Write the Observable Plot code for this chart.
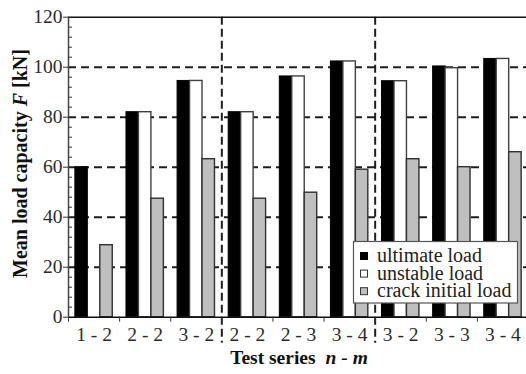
<!DOCTYPE html>
<html><head><meta charset="utf-8">
<script src="https://cdn.jsdelivr.net/npm/d3@7"></script>
<script src="https://cdn.jsdelivr.net/npm/@observablehq/plot@0.6"></script>
<style>
body{margin:0;background:#fff;}
#wrap{position:relative;width:526px;height:374px;overflow:hidden;}
</style></head><body><div id="wrap"></div>
<script>
// ---- data ----
const groups = ["1 - 2","2 - 2","3 - 2","2 - 2","2 - 3","3 - 4","3 - 2","3 - 3","3 - 4"];
const seriesNames = ["ultimate load","unstable load","crack initial load"];
const ultimate = [60, 82, 94.5, 82, 96.3, 102.3, 94.4, 100.3, 103.3];
const unstable = [null, 82, 94.5, 82, 96.3, 102.3, 94.4, 99.6, 103.3];
const crack    = [28.8, 47.4, 63.2, 47.4, 49.8, 59, 63.2, 60, 66];
const yTicks = [0, 20, 40, 60, 80, 100, 120];
const gridValues = [20, 40, 60, 80, 100];
const minorTicks = d3.range(0, 121, 4).filter(v => v % 20 !== 0);
const separators = [3, 6];

const fills = ["#000000", "#ffffff", "#bfbfbf"];
const strokes = ["#000000", "#404040", "#303030"];
const serif = "Liberation Serif";

const slot = d3.scaleBand().domain(seriesNames).range([0, 1]).paddingInner(0).paddingOuter(0.55);
const bw = slot.bandwidth();

const seriesData = [ultimate, unstable, crack].map((arr, k) =>
  arr.map((v, i) => ({i, series: seriesNames[k], value: v})).filter(d => d.value != null));

const barMarks = seriesData.map((rows, k) => Plot.rectY(rows, {
  x1: d => d.i + slot(d.series),
  x2: d => d.i + slot(d.series) + bw,
  y1: 0, y2: "value",
  fill: fills[k], stroke: strokes[k], strokeWidth: k === 0 ? 1 : 1.4
}));

const plot = Plot.plot({
  width: 526, height: 374,
  marginLeft: 68, marginRight: 0, marginTop: 16.7, marginBottom: 57.3,
  x: {domain: [0, 9], range: [68, 528]},
  y: {domain: [0, 120], range: [316.7, 16.7]},
  style: {fontFamily: serif, fontSize: "19.5px", color: "#2b2b2b", background: "#fff"},
  marks: [
    Plot.ruleY(gridValues, {stroke: "#1e1e1e", strokeWidth: 2, strokeDasharray: "8,5"}),
    Plot.ruleX(separators, {stroke: "#1e1e1e", strokeWidth: 2, strokeDasharray: "8,4", insetBottom: -26}),
    ...barMarks,
    Plot.ruleY([0, 120], {stroke: "#111", strokeWidth: 1.5}),
    Plot.ruleX([0], {stroke: "#444", strokeWidth: 1.5}),
    Plot.axisY(yTicks, {anchor: "left", tickSize: 5, tickPadding: 1, label: null, stroke: "#333",
      fontFamily: serif, fontSize: 19.5, fill: "#2b2b2b"}),
    Plot.axisY(minorTicks, {anchor: "left", tickSize: -4, tickFormat: () => "", label: null, stroke: "#333"}),
    Plot.axisX(d3.range(10), {anchor: "bottom", tickSize: 5, tickFormat: () => "", label: null, stroke: "#333"}),
    Plot.axisX(d3.range(9).map(i => i + 0.5), {anchor: "bottom", tickSize: 0, tickPadding: 9.5,
      tickFormat: v => groups[Math.floor(v)], label: null, fontFamily: serif, fontSize: 19.5, fill: "#2b2b2b"})
  ]
});
document.getElementById("wrap").appendChild(plot);

// ---- titles & legend ----
const svg = d3.select(plot);
const xt = svg.append("text").attr("x", 299).attr("y", 364).attr("text-anchor", "middle")
  .attr("font-family", serif).attr("font-size", 19.5).attr("font-weight", "bold").attr("fill", "#111");
xt.append("tspan").text("Test series");
xt.append("tspan").attr("dx", 10).attr("font-style", "italic").text("n - m");

const yt = svg.append("text").attr("transform", "translate(27,163.5) rotate(-90)").attr("text-anchor", "middle")
  .attr("font-family", serif).attr("font-size", 20).attr("font-weight", "bold").attr("fill", "#111");
yt.append("tspan").text("Mean load capacity ");
yt.append("tspan").attr("font-style", "italic").text("F");
yt.append("tspan").text(" [kN]");

const lg = svg.append("g");
lg.append("rect").attr("x", 353.5).attr("y", 241.5).attr("width", 164).attr("height", 61.5)
  .attr("fill", "#fff").attr("stroke", "#555").attr("stroke-width", 1.2);
seriesNames.forEach((s, k) => {
  const yb = 262 + k * 17.6;
  lg.append("rect").attr("x", 360.5).attr("y", yb - 9.5).attr("width", 7).attr("height", 7)
    .attr("fill", fills[k]).attr("stroke", k === 0 ? "#000" : "#333").attr("stroke-width", 1);
  lg.append("text").attr("x", 377).attr("y", yb).attr("text-anchor", "start").attr("font-family", serif)
    .attr("font-size", 20).attr("fill", "#222").text(s);
});
</script></body></html>
